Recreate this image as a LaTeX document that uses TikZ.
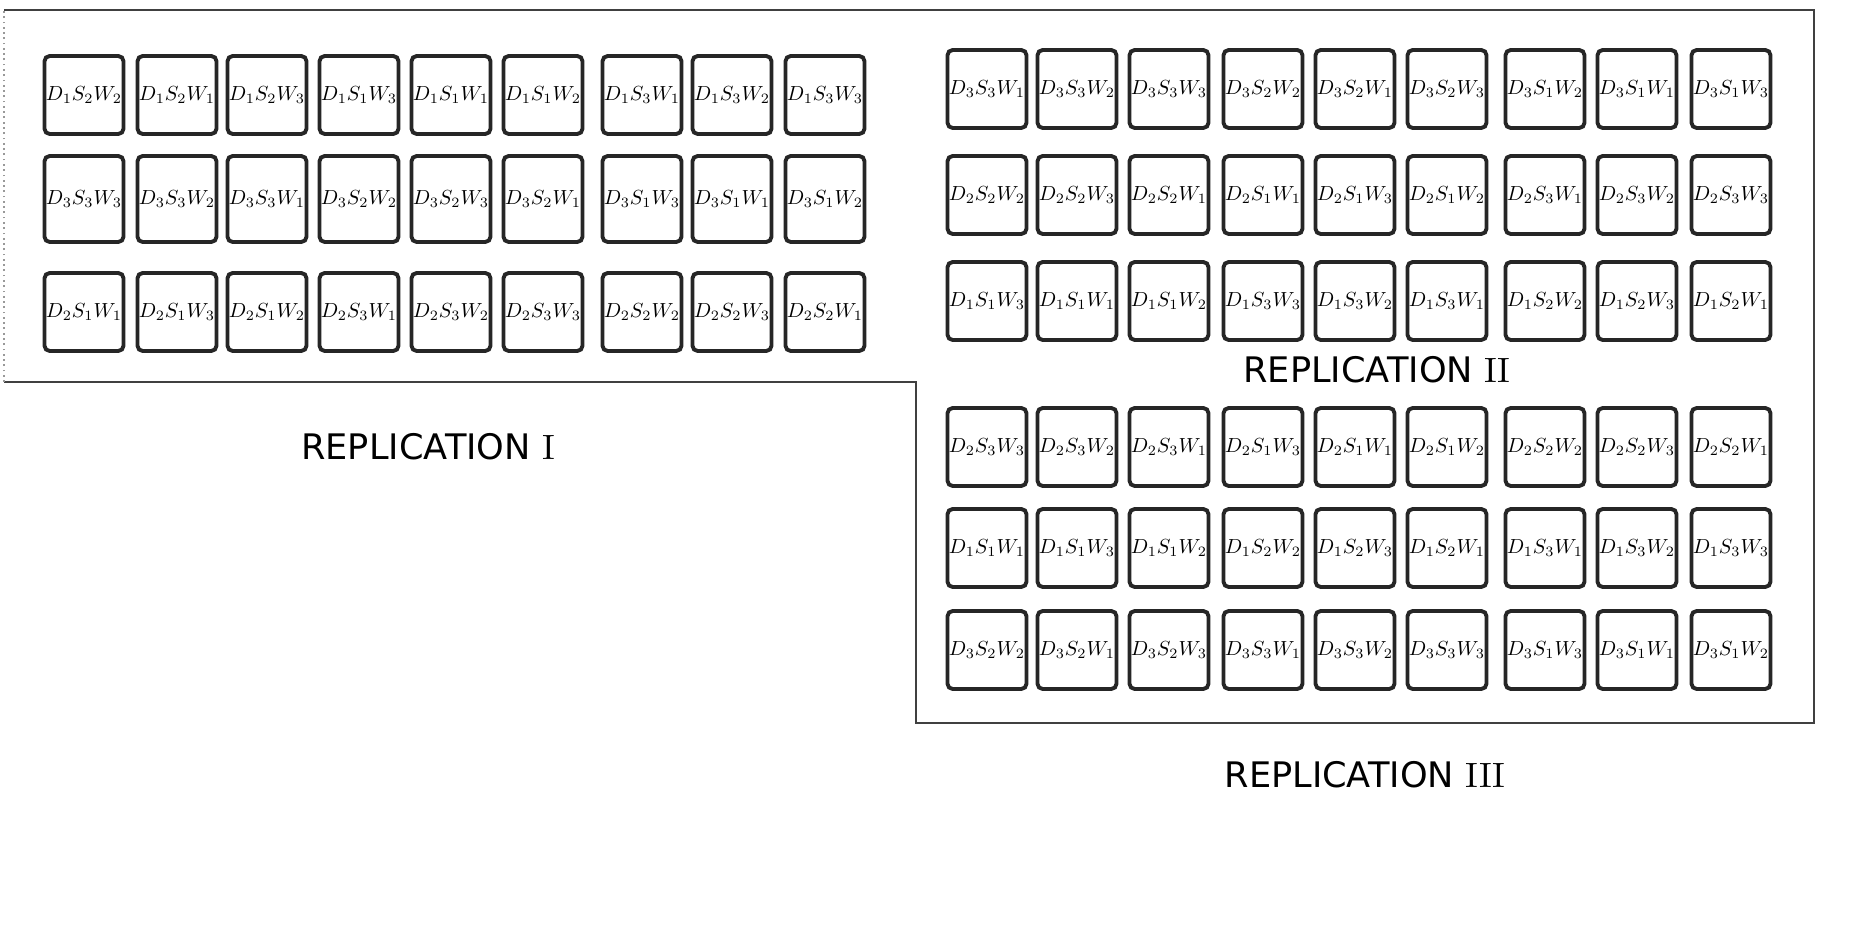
\documentclass[tikz,border=0pt]{standalone}
\usepackage{fontspec}
\setsansfont{DejaVu Sans}

% plot label D_i S_j W_k, shrunk to fit a plot box
\newcommand{\plotlab}[3]{\scalebox{0.58}{$D_{#1}S_{#2}W_{#3}$}}

\begin{document}
\begin{tikzpicture}[
        x=0.01cm, y=-0.01cm,
        plot/.style = {
            draw=black!85,
            line width=1.1pt,
            rounded corners=1.5pt,
            minimum width=0.79cm,
            minimum height=0.78cm,
            inner sep=0pt
        },
        tallplot/.style = {plot, minimum height=0.86cm},
        outline/.style = {line width=0.7pt, draw=black!75},
        faintline/.style = {line width=0.5pt, draw=black!40, densely dotted},
        replabel/.style = {font=\sffamily\fontsize{10}{12}\selectfont}
    ]
    \useasboundingbox (0,0) rectangle (1853,925);

    % Field outline
    \draw[outline] (4,10) -- (1814,10) -- (1814,723) -- (916,723) -- (916,382) -- (4,382);
    \draw[faintline] (4,382) -- (4,10);

    % Replication I, row 1
    \node[plot] (I11) at (84,95) {\plotlab{1}{2}{2}};
    \node[plot] (I12) at (177,95) {\plotlab{1}{2}{1}};
    \node[plot] (I13) at (267,95) {\plotlab{1}{2}{3}};
    \node[plot] (I14) at (359,95) {\plotlab{1}{1}{3}};
    \node[plot] (I15) at (451,95) {\plotlab{1}{1}{1}};
    \node[plot] (I16) at (543,95) {\plotlab{1}{1}{2}};
    \node[plot] (I17) at (642,95) {\plotlab{1}{3}{1}};
    \node[plot] (I18) at (732,95) {\plotlab{1}{3}{2}};
    \node[plot] (I19) at (825,95) {\plotlab{1}{3}{3}};
    % Replication I, row 2
    \node[tallplot] (I21) at (84,199) {\plotlab{3}{3}{3}};
    \node[tallplot] (I22) at (177,199) {\plotlab{3}{3}{2}};
    \node[tallplot] (I23) at (267,199) {\plotlab{3}{3}{1}};
    \node[tallplot] (I24) at (359,199) {\plotlab{3}{2}{2}};
    \node[tallplot] (I25) at (451,199) {\plotlab{3}{2}{3}};
    \node[tallplot] (I26) at (543,199) {\plotlab{3}{2}{1}};
    \node[tallplot] (I27) at (642,199) {\plotlab{3}{1}{3}};
    \node[tallplot] (I28) at (732,199) {\plotlab{3}{1}{1}};
    \node[tallplot] (I29) at (825,199) {\plotlab{3}{1}{2}};
    % Replication I, row 3
    \node[plot] (I31) at (84,312) {\plotlab{2}{1}{1}};
    \node[plot] (I32) at (177,312) {\plotlab{2}{1}{3}};
    \node[plot] (I33) at (267,312) {\plotlab{2}{1}{2}};
    \node[plot] (I34) at (359,312) {\plotlab{2}{3}{1}};
    \node[plot] (I35) at (451,312) {\plotlab{2}{3}{2}};
    \node[plot] (I36) at (543,312) {\plotlab{2}{3}{3}};
    \node[plot] (I37) at (642,312) {\plotlab{2}{2}{2}};
    \node[plot] (I38) at (732,312) {\plotlab{2}{2}{3}};
    \node[plot] (I39) at (825,312) {\plotlab{2}{2}{1}};

    % Replication II, row 1
    \node[plot] (II11) at (987,89) {\plotlab{3}{3}{1}};
    \node[plot] (II12) at (1077,89) {\plotlab{3}{3}{2}};
    \node[plot] (II13) at (1169,89) {\plotlab{3}{3}{3}};
    \node[plot] (II14) at (1263,89) {\plotlab{3}{2}{2}};
    \node[plot] (II15) at (1355,89) {\plotlab{3}{2}{1}};
    \node[plot] (II16) at (1447,89) {\plotlab{3}{2}{3}};
    \node[plot] (II17) at (1545,89) {\plotlab{3}{1}{2}};
    \node[plot] (II18) at (1637,89) {\plotlab{3}{1}{1}};
    \node[plot] (II19) at (1731,89) {\plotlab{3}{1}{3}};
    % Replication II, row 2
    \node[plot] (II21) at (987,195) {\plotlab{2}{2}{2}};
    \node[plot] (II22) at (1077,195) {\plotlab{2}{2}{3}};
    \node[plot] (II23) at (1169,195) {\plotlab{2}{2}{1}};
    \node[plot] (II24) at (1263,195) {\plotlab{2}{1}{1}};
    \node[plot] (II25) at (1355,195) {\plotlab{2}{1}{3}};
    \node[plot] (II26) at (1447,195) {\plotlab{2}{1}{2}};
    \node[plot] (II27) at (1545,195) {\plotlab{2}{3}{1}};
    \node[plot] (II28) at (1637,195) {\plotlab{2}{3}{2}};
    \node[plot] (II29) at (1731,195) {\plotlab{2}{3}{3}};
    % Replication II, row 3
    \node[plot] (II31) at (987,301) {\plotlab{1}{1}{3}};
    \node[plot] (II32) at (1077,301) {\plotlab{1}{1}{1}};
    \node[plot] (II33) at (1169,301) {\plotlab{1}{1}{2}};
    \node[plot] (II34) at (1263,301) {\plotlab{1}{3}{3}};
    \node[plot] (II35) at (1355,301) {\plotlab{1}{3}{2}};
    \node[plot] (II36) at (1447,301) {\plotlab{1}{3}{1}};
    \node[plot] (II37) at (1545,301) {\plotlab{1}{2}{2}};
    \node[plot] (II38) at (1637,301) {\plotlab{1}{2}{3}};
    \node[plot] (II39) at (1731,301) {\plotlab{1}{2}{1}};

    % Replication III, row 1
    \node[plot] (III11) at (987,447) {\plotlab{2}{3}{3}};
    \node[plot] (III12) at (1077,447) {\plotlab{2}{3}{2}};
    \node[plot] (III13) at (1169,447) {\plotlab{2}{3}{1}};
    \node[plot] (III14) at (1263,447) {\plotlab{2}{1}{3}};
    \node[plot] (III15) at (1355,447) {\plotlab{2}{1}{1}};
    \node[plot] (III16) at (1447,447) {\plotlab{2}{1}{2}};
    \node[plot] (III17) at (1545,447) {\plotlab{2}{2}{2}};
    \node[plot] (III18) at (1637,447) {\plotlab{2}{2}{3}};
    \node[plot] (III19) at (1731,447) {\plotlab{2}{2}{1}};
    % Replication III, row 2
    \node[plot] (III21) at (987,548) {\plotlab{1}{1}{1}};
    \node[plot] (III22) at (1077,548) {\plotlab{1}{1}{3}};
    \node[plot] (III23) at (1169,548) {\plotlab{1}{1}{2}};
    \node[plot] (III24) at (1263,548) {\plotlab{1}{2}{2}};
    \node[plot] (III25) at (1355,548) {\plotlab{1}{2}{3}};
    \node[plot] (III26) at (1447,548) {\plotlab{1}{2}{1}};
    \node[plot] (III27) at (1545,548) {\plotlab{1}{3}{1}};
    \node[plot] (III28) at (1637,548) {\plotlab{1}{3}{2}};
    \node[plot] (III29) at (1731,548) {\plotlab{1}{3}{3}};
    % Replication III, row 3
    \node[plot] (III31) at (987,650) {\plotlab{3}{2}{2}};
    \node[plot] (III32) at (1077,650) {\plotlab{3}{2}{1}};
    \node[plot] (III33) at (1169,650) {\plotlab{3}{2}{3}};
    \node[plot] (III34) at (1263,650) {\plotlab{3}{3}{1}};
    \node[plot] (III35) at (1355,650) {\plotlab{3}{3}{2}};
    \node[plot] (III36) at (1447,650) {\plotlab{3}{3}{3}};
    \node[plot] (III37) at (1545,650) {\plotlab{3}{1}{3}};
    \node[plot] (III38) at (1637,650) {\plotlab{3}{1}{1}};
    \node[plot] (III39) at (1731,650) {\plotlab{3}{1}{2}};

    % Replication labels
    \node[replabel] (repI) at (428,447) {REPLICATION {\rmfamily I}};
    \node[replabel] (repII) at (1377,370) {REPLICATION {\rmfamily II}};
    \node[replabel] (repIII) at (1365,775) {REPLICATION {\rmfamily III}};

\end{tikzpicture}
\end{document}
